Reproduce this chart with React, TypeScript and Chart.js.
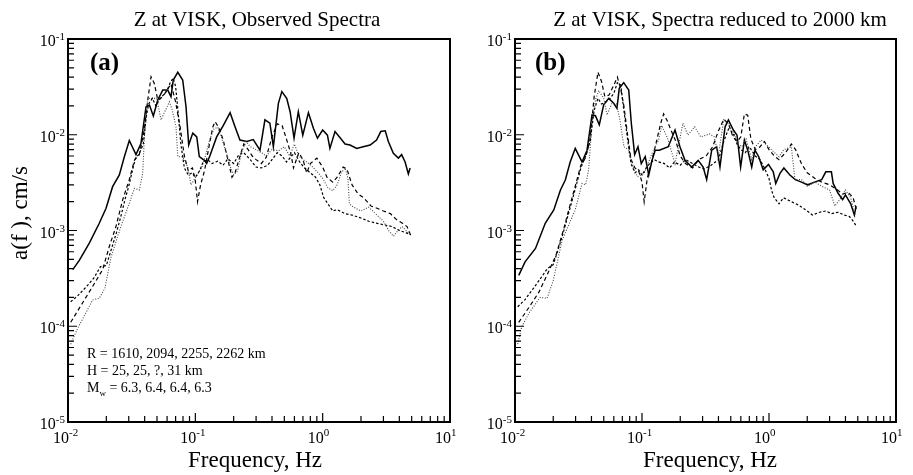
import React, { useEffect, useRef } from "react";
import { Chart, registerables } from "chart.js";
Chart.register(...registerables);

// ---------- axes ----------
const xDecades = [0.01, 0.1, 1, 10];
const xExponents = ["-2", "-1", "0", "1"];
const yDecades = [1e-5, 1e-4, 1e-3, 1e-2, 1e-1];
const yExponents = ["-5", "-4", "-3", "-2", "-1"];

// ---------- panel (a): observed spectra ----------
const fA1 = [0.0109, 0.0123, 0.0147, 0.0176, 0.0199, 0.0224, 0.0253, 0.0277, 0.0303, 0.0342, 0.0374, 0.041, 0.0436, 0.0468, 0.0507, 0.0555, 0.0607, 0.0644, 0.0671, 0.0728, 0.0796, 0.0845, 0.0887, 0.0955, 0.1026, 0.1074, 0.1178, 0.1227, 0.13, 0.147, 0.166, 0.1875, 0.205, 0.224, 0.253, 0.285, 0.322, 0.352, 0.385, 0.41, 0.449, 0.478, 0.522, 0.555, 0.596, 0.644, 0.698, 0.773, 0.846, 0.91, 1.0, 1.09, 1.14, 1.25, 1.38, 1.5, 1.64, 1.85, 2.08, 2.36, 2.65, 2.86, 3.1, 3.28, 3.59, 3.93, 4.17, 4.44, 4.71, 4.86];
const aA1 = [3.9e-4, 4.9e-4, 7.4e-4, 1.19e-3, 1.71e-3, 2.87e-3, 3.8e-3, 5.9e-3, 8.7e-3, 6.2e-3, 8.1e-3, 0.0196, 0.0204, 0.0157, 0.0231, 0.0293, 0.0293, 0.025, 0.0373, 0.0449, 0.0373, 0.0196, 7.8e-3, 0.0104, 9.5e-3, 5.9e-3, 5.4e-3, 5.0e-3, 6.0e-3, 9.5e-3, 0.0125, 0.017, 0.0121, 8.8e-3, 8.5e-3, 8.9e-3, 6.9e-3, 0.0143, 0.0132, 7.5e-3, 0.0213, 0.0282, 0.024, 0.0174, 9.2e-3, 0.0174, 9.9e-3, 0.017, 0.0117, 9.2e-3, 0.0112, 9.9e-3, 7.2e-3, 0.0108, 9.2e-3, 8.0e-3, 7.8e-3, 7.2e-3, 7.5e-3, 7.8e-3, 8.8e-3, 0.0108, 0.011, 8.5e-3, 6.4e-3, 5.7e-3, 6.2e-3, 5.2e-3, 3.9e-3, 4.5e-3];

const fA2 = [0.0105, 0.013, 0.0156, 0.0187, 0.0211, 0.0238, 0.0269, 0.0303, 0.0332, 0.0363, 0.0397, 0.0423, 0.0449, 0.0476, 0.0507, 0.0555, 0.0607, 0.0644, 0.07, 0.076, 0.082, 0.088, 0.095, 0.1, 0.104, 0.11, 0.118, 0.128, 0.137, 0.143, 0.152, 0.165, 0.18, 0.194, 0.205, 0.22, 0.24, 0.26, 0.28, 0.3, 0.33, 0.36, 0.4, 0.44, 0.48, 0.52, 0.56, 0.59, 0.65, 0.7, 0.75, 0.8, 0.9, 1.0, 1.08, 1.2, 1.3, 1.45, 1.55, 1.7, 1.9, 2.1, 2.4, 2.7, 3.0, 3.4, 3.8, 4.2, 4.6, 4.9];
const aA2 = [1.1e-4, 1.75e-4, 2.6e-4, 3.9e-4, 6.8e-4, 1.1e-3, 2.1e-3, 3.4e-3, 5.4e-3, 6.2e-3, 0.0112, 0.0231, 0.0403, 0.0344, 0.0231, 0.025, 0.03, 0.034, 0.022, 0.012, 6.0e-3, 4.2e-3, 4.5e-3, 3.3e-3, 2.0e-3, 3.0e-3, 4.2e-3, 7.5e-3, 0.012, 0.0137, 0.012, 9.0e-3, 5.5e-3, 3.6e-3, 4.0e-3, 5.5e-3, 8.0e-3, 7.0e-3, 6.0e-3, 5.5e-3, 5.0e-3, 5.8e-3, 9.5e-3, 0.013, 0.0125, 9.0e-3, 6.5e-3, 4.5e-3, 6.5e-3, 5.5e-3, 4.0e-3, 5.0e-3, 5.7e-3, 4.6e-3, 3.6e-3, 3.2e-3, 3.6e-3, 4.6e-3, 4.4e-3, 3.0e-3, 2.4e-3, 2.2e-3, 1.8e-3, 1.7e-3, 1.6e-3, 1.5e-3, 1.3e-3, 1.2e-3, 1.1e-3, 9.0e-4];

const fA3 = [0.0105, 0.0119, 0.0135, 0.0156, 0.0176, 0.0195, 0.0218, 0.026, 0.0303, 0.0332, 0.0363, 0.0386, 0.0397, 0.0423, 0.0497, 0.0538, 0.0625, 0.066, 0.0705, 0.0728, 0.0796, 0.0871, 0.0925, 0.1045, 0.112, 0.12, 0.13, 0.14, 0.15, 0.16, 0.175, 0.19, 0.2, 0.215, 0.23, 0.25, 0.27, 0.3, 0.33, 0.36, 0.4, 0.45, 0.5, 0.55, 0.6, 0.65, 0.7, 0.78, 0.85, 0.92, 1.0, 1.1, 1.2, 1.3, 1.4, 1.5, 1.58, 1.62, 1.75, 2.0, 2.3, 2.6, 3.0, 3.3, 3.6, 3.9, 4.2, 4.5, 4.9];
const aA3 = [6.5e-5, 9.5e-5, 1.3e-4, 1.88e-4, 1.96e-4, 2.5e-4, 5.3e-4, 1.1e-3, 1.92e-3, 2.75e-3, 2.65e-3, 3.95e-3, 8.8e-3, 0.024, 0.024, 0.0143, 0.0221, 0.018, 0.0121, 5.9e-3, 5.9e-3, 4.6e-3, 3.0e-3, 3.9e-3, 4.5e-3, 6.0e-3, 9.0e-3, 0.0115, 0.012, 9.5e-3, 6.5e-3, 4.5e-3, 3.8e-3, 4.2e-3, 6.5e-3, 8.5e-3, 7.5e-3, 7.0e-3, 6.5e-3, 6.0e-3, 7.0e-3, 6.8e-3, 7.5e-3, 6.0e-3, 8.0e-3, 6.0e-3, 5.5e-3, 5.0e-3, 4.5e-3, 4.0e-3, 3.5e-3, 2.8e-3, 2.6e-3, 3.0e-3, 4.0e-3, 4.5e-3, 3.5e-3, 1.9e-3, 1.75e-3, 1.6e-3, 1.75e-3, 1.5e-3, 1.25e-3, 1.0e-3, 8.7e-4, 1.0e-3, 1.1e-3, 1.0e-3, 9.0e-4];

const fA4 = [0.0105, 0.012, 0.014, 0.016, 0.018, 0.02, 0.022, 0.024, 0.026, 0.028, 0.03, 0.032, 0.034, 0.036, 0.039, 0.041, 0.043, 0.046, 0.049, 0.052, 0.056, 0.06, 0.064, 0.067, 0.07, 0.073, 0.077, 0.082, 0.088, 0.094, 0.1, 0.108, 0.115, 0.125, 0.135, 0.15, 0.165, 0.18, 0.2, 0.22, 0.24, 0.27, 0.3, 0.33, 0.37, 0.4, 0.44, 0.48, 0.52, 0.56, 0.6, 0.66, 0.72, 0.8, 0.88, 0.95, 1.02, 1.1, 1.2, 1.3, 1.5, 1.7, 2.0, 2.3, 2.6, 3.0, 3.5, 4.0, 4.5, 4.9];
const aA4 = [1.8e-4, 2.1e-4, 2.6e-4, 3.2e-4, 4.2e-4, 4.3e-4, 6.5e-4, 9.5e-4, 1.4e-3, 2.1e-3, 2.9e-3, 4.2e-3, 5.8e-3, 6.2e-3, 8.0e-3, 0.015, 0.021, 0.024, 0.02, 0.023, 0.026, 0.029, 0.036, 0.039, 0.032, 0.018, 8.0e-3, 4.5e-3, 3.8e-3, 4.0e-3, 3.6e-3, 4.2e-3, 5.2e-3, 5.5e-3, 5.0e-3, 5.3e-3, 4.8e-3, 5.6e-3, 5.0e-3, 6.2e-3, 6.5e-3, 5.5e-3, 4.6e-3, 4.5e-3, 4.8e-3, 5.5e-3, 6.5e-3, 6.0e-3, 5.2e-3, 5.8e-3, 6.5e-3, 5.2e-3, 4.5e-3, 4.0e-3, 3.6e-3, 3.0e-3, 2.2e-3, 1.9e-3, 1.6e-3, 1.65e-3, 1.5e-3, 1.45e-3, 1.35e-3, 1.25e-3, 1.2e-3, 1.15e-3, 1.1e-3, 1.0e-3, 9.5e-4, 9.0e-4];

// ---------- panel (b): spectra reduced to 2000 km ----------
const fB1 = [0.0107, 0.012, 0.0145, 0.0173, 0.0202, 0.0228, 0.0249, 0.0272, 0.0298, 0.0337, 0.0369, 0.0404, 0.043, 0.0461, 0.0499, 0.0547, 0.0599, 0.0635, 0.0662, 0.0718, 0.0786, 0.0824, 0.0875, 0.093, 0.0987, 0.106, 0.113, 0.12, 0.127, 0.137, 0.161, 0.182, 0.199, 0.218, 0.246, 0.277, 0.303, 0.323, 0.354, 0.387, 0.411, 0.451, 0.479, 0.524, 0.56, 0.598, 0.64, 0.68, 0.731, 0.775, 0.83, 0.9, 0.99, 1.08, 1.13, 1.22, 1.31, 1.46, 1.61, 1.8, 2.02, 2.28, 2.6, 2.8, 3.1, 3.2, 3.5, 3.8, 4.0, 4.4, 4.7, 4.85];
const aB1 = [3.4e-4, 4.7e-4, 6.5e-4, 1.19e-3, 1.64e-3, 2.65e-3, 3.37e-3, 5.2e-3, 7.2e-3, 5.2e-3, 6.9e-3, 0.0161, 0.0158, 0.0127, 0.0205, 0.024, 0.0213, 0.0189, 0.0305, 0.035, 0.0293, 0.0132, 6.2e-3, 7.5e-3, 5.0e-3, 5.9e-3, 3.8e-3, 5.4e-3, 6.9e-3, 6.9e-3, 7.5e-3, 0.0112, 7.5e-3, 5.4e-3, 4.6e-3, 5.4e-3, 4.6e-3, 3.4e-3, 6.9e-3, 7.5e-3, 4.6e-3, 0.0121, 0.0143, 0.0112, 9.9e-3, 4.6e-3, 8.8e-3, 6.9e-3, 4.6e-3, 6.9e-3, 5.9e-3, 4.3e-3, 4.9e-3, 4.1e-3, 3.1e-3, 3.95e-3, 4.5e-3, 3.8e-3, 3.4e-3, 3.2e-3, 3.0e-3, 3.2e-3, 3.4e-3, 4.1e-3, 4.1e-3, 3.1e-3, 2.45e-3, 2.1e-3, 2.35e-3, 1.9e-3, 1.45e-3, 1.8e-3];

const fB2 = [0.0107, 0.013, 0.0155, 0.018, 0.021, 0.024, 0.027, 0.03, 0.033, 0.036, 0.039, 0.042, 0.045, 0.048, 0.051, 0.055, 0.06, 0.064, 0.068, 0.072, 0.077, 0.082, 0.088, 0.094, 0.1, 0.104, 0.11, 0.12, 0.13, 0.14, 0.148, 0.158, 0.17, 0.185, 0.2, 0.22, 0.25, 0.28, 0.32, 0.36, 0.4, 0.44, 0.48, 0.52, 0.56, 0.6, 0.64, 0.68, 0.72, 0.78, 0.85, 0.92, 1.0, 1.1, 1.2, 1.35, 1.5, 1.62, 1.8, 2.0, 2.3, 2.6, 3.0, 3.4, 3.8, 4.2, 4.6, 4.9];
const aB2 = [1.1e-4, 1.6e-4, 2.3e-4, 3.5e-4, 5.5e-4, 1.0e-3, 1.8e-3, 3.0e-3, 4.8e-3, 5.8e-3, 9.0e-3, 0.025, 0.045, 0.036, 0.025, 0.026, 0.033, 0.04, 0.03, 0.02, 0.01, 5.5e-3, 4.5e-3, 4.2e-3, 3.2e-3, 2.0e-3, 3.5e-3, 5.5e-3, 8.5e-3, 0.013, 0.0165, 0.014, 0.011, 8.5e-3, 6.0e-3, 5.0e-3, 4.5e-3, 5.5e-3, 6.0e-3, 7.5e-3, 0.011, 0.0145, 0.013, 9.5e-3, 8.5e-3, 9.5e-3, 0.0165, 0.016, 9.0e-3, 7.0e-3, 7.5e-3, 8.5e-3, 7.0e-3, 6.0e-3, 5.5e-3, 6.5e-3, 8.0e-3, 7.0e-3, 5.0e-3, 4.0e-3, 3.5e-3, 3.2e-3, 3.0e-3, 2.7e-3, 2.4e-3, 2.5e-3, 2.2e-3, 1.6e-3];

const fB3 = [0.0105, 0.0113, 0.013, 0.0158, 0.0179, 0.02, 0.0235, 0.0298, 0.0337, 0.036, 0.038, 0.0404, 0.043, 0.0456, 0.05, 0.053, 0.058, 0.063, 0.067, 0.072, 0.078, 0.086, 0.092, 0.104, 0.12, 0.135, 0.143, 0.16, 0.182, 0.21, 0.23, 0.26, 0.29, 0.34, 0.37, 0.4, 0.44, 0.48, 0.52, 0.57, 0.61, 0.66, 0.73, 0.78, 0.87, 0.99, 1.08, 1.2, 1.31, 1.5, 1.6, 1.8, 2.0, 2.3, 2.6, 3.0, 3.3, 3.6, 4.0, 4.4, 4.8];
const aB3 = [6.5e-5, 9.9e-5, 1.4e-4, 2.0e-4, 1.96e-4, 3.0e-4, 7.9e-4, 1.64e-3, 3.1e-3, 3.0e-3, 4.3e-3, 0.0132, 0.023, 0.029, 0.024, 0.0161, 0.0213, 0.021, 0.0143, 7.5e-3, 7.0e-3, 4.45e-3, 3.65e-3, 3.95e-3, 6.4e-3, 8.8e-3, 0.0125, 9.0e-3, 5.0e-3, 0.0132, 9.9e-3, 0.0121, 9.5e-3, 0.0102, 9.5e-3, 6.15e-3, 0.0143, 0.013, 0.0112, 8.0e-3, 7.5e-3, 9.0e-3, 5.5e-3, 7.5e-3, 8.8e-3, 7.5e-3, 6.7e-3, 5.9e-3, 7.0e-3, 7.5e-3, 3.4e-3, 3.4e-3, 2.9e-3, 3.2e-3, 2.9e-3, 2.65e-3, 1.8e-3, 2.1e-3, 2.65e-3, 2.2e-3, 1.4e-3];

const fB4 = [0.0105, 0.012, 0.014, 0.016, 0.018, 0.02, 0.022, 0.024, 0.026, 0.028, 0.03, 0.033, 0.036, 0.039, 0.042, 0.045, 0.048, 0.052, 0.056, 0.06, 0.064, 0.068, 0.072, 0.077, 0.082, 0.088, 0.094, 0.1, 0.108, 0.115, 0.125, 0.135, 0.15, 0.165, 0.18, 0.2, 0.22, 0.25, 0.28, 0.31, 0.35, 0.4, 0.44, 0.48, 0.52, 0.56, 0.6, 0.65, 0.7, 0.78, 0.85, 0.92, 1.0, 1.05, 1.1, 1.2, 1.3, 1.5, 1.7, 2.0, 2.2, 2.5, 2.8, 3.1, 3.5, 3.9, 4.3, 4.6, 4.9];
const aB4 = [1.6e-4, 1.9e-4, 2.5e-4, 3.2e-4, 4.0e-4, 4.4e-4, 6.5e-4, 9.5e-4, 1.4e-3, 2.0e-3, 2.8e-3, 4.5e-3, 6.0e-3, 8.5e-3, 0.018, 0.024, 0.021, 0.022, 0.024, 0.027, 0.035, 0.033, 0.018, 9.0e-3, 5.0e-3, 4.0e-3, 4.3e-3, 3.8e-3, 4.5e-3, 5.0e-3, 5.5e-3, 5.2e-3, 5.0e-3, 4.5e-3, 5.2e-3, 4.8e-3, 5.5e-3, 5.0e-3, 4.6e-3, 4.4e-3, 4.8e-3, 5.5e-3, 8.5e-3, 0.0115, 0.0105, 8.0e-3, 7.0e-3, 6.5e-3, 7.5e-3, 6.0e-3, 5.5e-3, 4.5e-3, 3.5e-3, 2.6e-3, 2.2e-3, 1.9e-3, 2.2e-3, 2.0e-3, 1.85e-3, 1.6e-3, 1.45e-3, 1.55e-3, 1.6e-3, 1.5e-3, 1.55e-3, 1.45e-3, 1.4e-3, 1.25e-3, 1.1e-3];

// ---------- texts ----------
const titleA = "Z at VISK, Observed Spectra";
const titleB = "Z at VISK, Spectra reduced to 2000 km";
const xTitle = "Frequency, Hz";
const yTitle = "a(f ), cm/s";
const noteR = "R = 1610, 2094, 2255, 2262 km";
const noteH = "H = 25, 25, ?, 31 km";
const noteM = " = 6.3, 6.4, 6.4, 6.3";

const SERIF = '"Liberation Serif", "Times New Roman", serif';

const lineStyles = [
  { borderColor: "#000", borderWidth: 1.5, borderDash: [] as number[] },
  { borderColor: "#000", borderWidth: 1.2, borderDash: [4, 3] },
  { borderColor: "#444", borderWidth: 1.1, borderDash: [1, 1.6] },
  { borderColor: "#000", borderWidth: 1.2, borderDash: [2.5, 2] },
];

type PanelProps = {
  offset: number;
  width: number;
  plotLeft: number;
  plotRight: number;
  title: string;
  titleX: number;
  letter: string;
  letterX: number;
  xTitleX: number;
  showY: boolean;
  showNote: boolean;
  series: { f: number[]; a: number[] }[];
};

function Panel(p: PanelProps) {
  const ref = useRef<HTMLCanvasElement>(null);
  useEffect(() => {
    if (!ref.current) return;
    const order = [3, 2, 1, 0];
    const datasets = order.map((i) => ({
      data: p.series[i].f.map((f, j) => ({ x: f, y: p.series[i].a[j] })),
      ...lineStyles[i],
      pointRadius: 0,
      fill: false,
      tension: 0,
    }));
    const decor = {
      id: "decor",
      afterDraw(chart: any) {
        const { ctx, chartArea: ca, scales } = chart;
        const xs = scales.x;
        const ys = scales.y;
        ctx.save();
        ctx.strokeStyle = "#000";
        ctx.fillStyle = "#000";
        // frame
        ctx.lineWidth = 2;
        ctx.strokeRect(ca.left, ca.top, ca.right - ca.left, ca.bottom - ca.top);
        // ticks (inward)
        ctx.lineWidth = 1.2;
        ctx.beginPath();
        xDecades.forEach((d) => {
          for (let m = 1; m <= 9; m++) {
            const v = d * m;
            if (v > 10.0001) break;
            const px = xs.getPixelForValue(v);
            const len = m === 1 ? 9 : 6;
            ctx.moveTo(px, ca.bottom);
            ctx.lineTo(px, ca.bottom - len);
          }
        });
        yDecades.forEach((d) => {
          for (let m = 1; m <= 9; m++) {
            const v = d * m;
            if (v > 0.10001) break;
            const py = ys.getPixelForValue(v);
            const len = m === 1 ? 9 : 6;
            ctx.moveTo(ca.left, py);
            ctx.lineTo(ca.left + len, py);
          }
        });
        ctx.stroke();
        // tick labels
        ctx.textBaseline = "alphabetic";
        xDecades.forEach((d, i) => {
          const px = xs.getPixelForValue(d);
          ctx.font = `16px ${SERIF}`;
          ctx.textAlign = "right";
          ctx.fillText("10", px + 1, ca.bottom + 21);
          ctx.font = `11px ${SERIF}`;
          ctx.textAlign = "left";
          ctx.fillText(xExponents[i], px + 1, ca.bottom + 14);
        });
        yDecades.forEach((d, i) => {
          const py = ys.getPixelForValue(d);
          ctx.font = `11px ${SERIF}`;
          const w = ctx.measureText(yExponents[i]).width;
          ctx.textAlign = "right";
          ctx.fillText(yExponents[i], ca.left - 3, py + 1);
          ctx.font = `16px ${SERIF}`;
          ctx.fillText("10", ca.left - 3 - w, py + 7);
        });
        // title
        ctx.font = `21px ${SERIF}`;
        ctx.textAlign = "center";
        ctx.fillText(p.title, p.titleX, 26);
        // panel letter
        ctx.font = `bold 25px ${SERIF}`;
        ctx.textAlign = "left";
        ctx.fillText(p.letter, p.letterX, 70);
        // x title
        ctx.font = `23px ${SERIF}`;
        ctx.textAlign = "center";
        ctx.fillText(xTitle, p.xTitleX, 467);
        // y title
        if (p.showY) {
          ctx.save();
          ctx.translate(27, 213);
          ctx.rotate(-Math.PI / 2);
          ctx.font = `23px ${SERIF}`;
          ctx.textAlign = "center";
          ctx.fillText(yTitle, 0, 0);
          ctx.restore();
        }
        // annotation
        if (p.showNote) {
          ctx.font = `14px ${SERIF}`;
          ctx.textAlign = "left";
          ctx.fillText(noteR, 87, 358);
          ctx.fillText(noteH, 87, 375);
          ctx.fillText("M", 87, 392);
          const mw = ctx.measureText("M").width;
          ctx.font = `9px ${SERIF}`;
          ctx.fillText("w", 87 + mw, 396);
          const ww = ctx.measureText("w").width;
          ctx.font = `14px ${SERIF}`;
          ctx.fillText(noteM, 87 + mw + ww, 392);
        }
        ctx.restore();
      },
    };
    const chart = new Chart(ref.current, {
      type: "line",
      data: { datasets },
      options: {
        responsive: false,
        animation: false,
        devicePixelRatio: 1,
        layout: { padding: { top: 39, right: p.width - p.plotRight, left: 0, bottom: 0 } },
        plugins: { legend: { display: false }, tooltip: { enabled: false }, title: { display: false } },
        scales: {
          x: {
            type: "logarithmic",
            min: 0.01,
            max: 10,
            grid: { display: false },
            border: { display: false },
            ticks: { display: false },
            afterFit: (s: any) => {
              s.height = 53;
            },
          },
          y: {
            type: "logarithmic",
            min: 1e-5,
            max: 0.1,
            grid: { display: false },
            border: { display: false },
            ticks: { display: false },
            afterFit: (s: any) => {
              s.width = p.plotLeft;
            },
          },
        },
      } as any,
      plugins: [decor],
    });
    return () => chart.destroy();
  }, []);
  return (
    <canvas
      ref={ref}
      width={p.width}
      height={475}
      style={{ position: "absolute", left: p.offset, top: 0, width: p.width, height: 475 }}
    />
  );
}

export default function App() {
  return (
    <div style={{ position: "absolute", left: 0, top: 0, width: 913, height: 475, background: "#fff" }}>
      <Panel
        offset={0}
        width={456}
        plotLeft={68}
        plotRight={450}
        title={titleA}
        titleX={257}
        letter="(a)"
        letterX={90}
        xTitleX={255}
        showY={true}
        showNote={true}
        series={[
          { f: fA1, a: aA1 },
          { f: fA2, a: aA2 },
          { f: fA3, a: aA3 },
          { f: fA4, a: aA4 },
        ]}
      />
      <Panel
        offset={456}
        width={457}
        plotLeft={59}
        plotRight={440}
        title={titleB}
        titleX={264}
        letter="(b)"
        letterX={79}
        xTitleX={254}
        showY={false}
        showNote={false}
        series={[
          { f: fB1, a: aB1 },
          { f: fB2, a: aB2 },
          { f: fB3, a: aB3 },
          { f: fB4, a: aB4 },
        ]}
      />
    </div>
  );
}
